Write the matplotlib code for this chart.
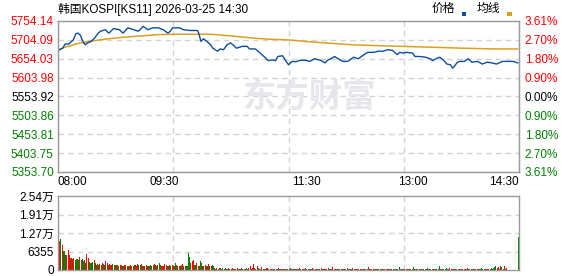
import numpy as np
import matplotlib
matplotlib.use("Agg")
import matplotlib.pyplot as plt
from matplotlib.patches import Rectangle

plt.rcParams['font.family'] = ['Liberation Sans', 'Noto Sans CJK SC', 'DejaVu Sans']

# --- data ---
title = "韩国KOSPI[KS11] 2026-03-25 14:30"
prev_close = 5553.92
price_ticks = [5754.14, 5704.09, 5654.03, 5603.98, 5553.92, 5503.86, 5453.81, 5403.75, 5353.70]
vol_ticks = [0, 6355, 12710, 19065, 25420]
vol_tick_labels = ["0", "6355", "1.27万", "1.91万", "2.54万"]
time_ticks = [0, 90, 210, 300, 390]
time_labels = ["08:00", "09:30", "11:30", "13:00", "14:30"]

# minutes after 08:00 / index level
price_min = [1, 4, 6, 9, 13, 15, 17, 19, 21, 23, 25, 28, 31, 34, 36, 40, 43, 47, 52, 55,
             59, 64, 68, 72, 76, 80, 85, 89, 93, 95, 97, 103, 106, 112, 118, 119, 121, 123, 126, 129,
             131, 135, 137, 140, 143, 146, 148, 151, 156, 160, 162, 167, 171, 175, 178, 181, 184, 186, 190, 192,
             195, 198, 201, 205, 209, 213, 217, 222, 226, 228, 232, 234, 237, 241, 245, 250, 254, 258, 262, 267,
             271, 275, 279, 283, 287, 289, 292, 295, 300, 302, 306, 311, 315, 317, 321, 323, 326, 329, 332, 334,
             338, 340, 344, 347, 350, 355, 359, 363, 367, 371, 376, 380, 385, 389]
price_val = [5678, 5682, 5693, 5693, 5704, 5720, 5722, 5716, 5700, 5691, 5696, 5700, 5709, 5722, 5727, 5731, 5722, 5734, 5731, 5722,
             5736, 5731, 5727, 5740, 5731, 5736, 5736, 5731, 5722, 5727, 5736, 5736, 5731, 5729, 5729, 5722, 5700, 5707, 5700, 5691,
             5682, 5674, 5680, 5678, 5691, 5696, 5691, 5682, 5687, 5687, 5680, 5680, 5669, 5658, 5649, 5651, 5649, 5660, 5662, 5652,
             5638, 5647, 5646, 5650, 5650, 5647, 5654, 5650, 5643, 5650, 5656, 5660, 5654, 5647, 5647, 5658, 5654, 5663, 5671, 5671,
             5674, 5674, 5678, 5676, 5665, 5671, 5669, 5671, 5669, 5660, 5660, 5658, 5654, 5649, 5656, 5658, 5651, 5640, 5638, 5629,
             5645, 5647, 5647, 5654, 5645, 5647, 5640, 5645, 5643, 5640, 5647, 5647, 5647, 5643]

avg_min = [1, 5, 9, 16, 26, 40, 55, 72, 85, 100, 129, 145, 165, 177, 195, 209, 226, 249, 268, 290, 322, 343, 370, 389]
avg_val = [5678, 5684, 5687, 5694, 5700, 5706, 5711, 5715, 5718, 5719, 5719, 5715, 5709, 5706, 5704, 5700, 5696, 5691,
           5689, 5687, 5684, 5682, 5680, 5680]

# volume per minute (minute 1..390), 20 per row
vol_rows = [
    [23240, 9960, 10530, 8590, 6530, 6530, 5150, 5150, 6760, 5150, 4010, 4010, 3780, 4010, 3440, 3660, 3660, 3440, 4350, 3440],
    [3890, 2980, 3440, 2520, 5500, 4010, 2860, 2520, 2520, 2860, 3440, 2290, 1720, 2060, 1720, 2060, 1720, 2290, 1950, 1720],
    [3210, 2290, 1720, 1950, 1600, 1720, 1950, 1720, 1600, 1720, 1600, 1490, 1720, 1600, 1370, 1490, 1600, 1720, 1490, 1370],
    [1490, 1600, 1370, 1490, 1720, 1600, 1490, 1950, 1720, 1600, 1950, 1490, 1370, 1490, 1600, 1260, 1490, 1370, 1600, 1490],
    [1720, 1950, 1600, 1490, 1720, 2290, 1600, 1490, 1370, 1490, 1950, 1600, 1490, 1370, 1720, 1490, 1600, 1370, 1490, 2520],
    [1600, 1490, 1370, 1260, 1600, 1950, 1490, 1370, 1260, 1490, 5950, 4350, 2290, 3210, 3440, 1720, 1600, 2290, 1490, 1370],
    [3210, 2520, 1490, 1370, 1720, 1490, 1370, 2060, 1490, 1260, 1720, 1370, 570, 460, 570, 460, 570, 690, 460, 570],
    [460, 570, 340, 460, 570, 340, 460, 690, 460, 340, 460, 570, 340, 460, 340, 570, 460, 340, 460, 570],
    [460, 690, 1370, 460, 570, 2060, 690, 460, 1370, 570, 460, 340, 920, 460, 340, 460, 570, 570, 340, 460],
    [340, 460, 340, 460, 340, 460, 570, 340, 460, 340, 460, 340, 460, 340, 460, 340, 570, 340, 460, 340],
    [460, 340, 460, 340, 570, 340, 460, 340, 460, 570, 340, 460, 340, 460, 340, 570, 460, 340, 460, 340],
    [460, 340, 570, 460, 340, 460, 340, 460, 570, 340, 460, 340, 920, 460, 340, 460, 340, 460, 340, 460],
    [340, 460, 340, 460, 570, 340, 460, 340, 460, 570, 340, 460, 340, 460, 340, 460, 340, 460, 340, 460],
    [340, 460, 1030, 460, 340, 460, 340, 460, 340, 460, 340, 460, 340, 460, 340, 460, 340, 460, 340, 460],
    [340, 460, 340, 460, 340, 460, 340, 460, 1030, 460, 340, 460, 340, 460, 340, 460, 340, 460, 340, 460],
    [1030, 460, 340, 460, 340, 460, 340, 460, 340, 460, 340, 460, 690, 460, 340, 460, 340, 460, 340, 460],
    [340, 460, 1370, 460, 340, 460, 340, 460, 690, 460, 340, 800, 340, 460, 340, 460, 340, 460, 340, 460],
    [340, 460, 340, 460, 340, 460, 690, 460, 340, 460, 340, 460, 340, 460, 340, 460, 340, 460, 690, 460],
    [340, 460, 340, 460, 340, 460, 570, 460, 690, 1030, 1370, 800, 920, 460, 1370, 920, 460, 1490, 460, 570],
    [0, 0, 0, 0, 0, 0, 0, 0, 0, 11450],
]
# r = up minute, g = down minute
col_rows = [
    "rrgrgggrrrgrrrggggrr", "ggrgrrggggrgrggrrrgg", "rrgrrrgrgrggrrggrrgr", "grrgrgrrggrgrrgrgrgg",
    "rrgrggrgrrrgrgrgrrgg", "rgrgrrgrggggrrrggrgr", "ggrgrgrrgrggrgrgrgrg", "rgrgrgrrgrgrgrgrggrg",
    "grrgrrgrrgrgrgrgrrgr", "rgrgrgrgrgrgrgrgrgrg", "grgrrgrgrgrggrgrrgrg", "rgrgrrgrgrgrrgrgrgrg",
    "rgrggrgrgrrgrgrgrgrg", "grrgrgrgrgrgrgrgrgrg", "rgrgrgrgggrgrgrgrgrg", "ggrgrgrgrgrgggrgrgrg",
    "rgggrgrgggrrrgrgrgrg", "rgrgrgrgrgrgrgrgrggg", "rgrgrgrggggrrggrgrgr", "rrrrrrrrrg",
]

volume = [v for row in vol_rows for v in row]
updown = "".join(col_rows)
vol_x = np.arange(1, len(volume) + 1) - 0.5

RED = '#ff0000'
GREEN = '#008000'
BLACK = '#000000'
GRID = '#d3d3d3'
EDGE = '#9a9a9a'

fig = plt.figure(figsize=(5.78, 2.76), dpi=100)
W, H = 578, 276
ax = fig.add_axes([58 / W, 104 / H, 461 / W, 151 / H])
axv = fig.add_axes([58 / W, 6 / H, 461 / W, 74 / H])

# grids: evenly spaced verticals, dashed horizontals at the ticks
for a in (ax, axv):
    for gx in np.linspace(0, 390, 5)[1:-1]:
        a.axvline(gx, color=GRID, lw=1.0, ls=(0, (4, 3)), zorder=0)
    for s in a.spines.values():
        s.set_color(EDGE)
        s.set_linewidth(1.0)
    a.set_xlim(0, 390)
    a.tick_params(length=0)

for t in price_ticks[1:-1]:
    ax.axhline(t, color=GRID, lw=1.0, ls=(0, (4, 3)), zorder=0)
for t in vol_ticks[1:-1]:
    axv.axhline(t, color=GRID, lw=1.0, ls=(0, (4, 3)), zorder=0)

# watermark
ax.text(0.545, 0.49, "东方财富", transform=ax.transAxes, ha='center', va='center',
        fontsize=24, fontweight='bold', color='#e6e6ec', family=['Noto Sans CJK SC'], zorder=0)

ax.plot(avg_min, avg_val, color='#dba11c', lw=1.1, zorder=2)
ax.plot(price_min, price_val, color='#0b4e9e', lw=1.0, zorder=3)

ax.set_ylim(price_ticks[-1], price_ticks[0])
ax.set_yticks(price_ticks)
ax.set_yticklabels([f"{t:.2f}" for t in price_ticks], fontsize=8.5)


def tick_color(t):
    if abs(t - prev_close) < 0.01:
        return BLACK
    return RED if t > prev_close else GREEN


for lbl, t in zip(ax.get_yticklabels(), price_ticks):
    lbl.set_color(tick_color(t))
ax.tick_params(axis='y', pad=3)

axr = ax.twinx()
axr.set_ylim(ax.get_ylim())
axr.set_yticks(price_ticks)
axr.set_yticklabels([f"{abs(t - prev_close) / prev_close * 100:.2f}%" for t in price_ticks], fontsize=8.5)
for lbl, t in zip(axr.get_yticklabels(), price_ticks):
    lbl.set_color(tick_color(t))
axr.tick_params(length=0, pad=4)
for s in axr.spines.values():
    s.set_color(EDGE)

ax.set_xticks(time_ticks)
ax.set_xticklabels(time_labels, fontsize=8.5)
ax.tick_params(axis='x', pad=3)
for lbl, ha in zip(ax.get_xticklabels(), ['left', 'center', 'center', 'center', 'right']):
    lbl.set_ha(ha)

# volume bars
bar_colors = [RED if c == 'r' else GREEN for c in updown]
axv.bar(vol_x, volume, width=0.85, color=bar_colors, linewidth=0, antialiased=False, zorder=2)
axv.set_ylim(0, vol_ticks[-1])
axv.set_yticks(vol_ticks)
axv.set_yticklabels(vol_tick_labels, fontsize=8.5)
axv.tick_params(axis='y', pad=3)
axv.set_xticks([])

# title and legend
fig.text(58 / W, 1 - 9 / H, title, fontsize=8.5, ha='left', va='center')
fig.text(432 / W, 1 - 9 / H, "价格", fontsize=8.5, ha='left', va='center')
fig.text(477 / W, 1 - 9 / H, "均线", fontsize=8.5, ha='left', va='center')
fig.add_artist(Rectangle((462 / W, 1 - 15.5 / H), 4 / W, 3 / H, transform=fig.transFigure,
                         color='#0b4e9e', lw=0))
fig.add_artist(Rectangle((507 / W, 1 - 15.5 / H), 5 / W, 3 / H, transform=fig.transFigure,
                         color='#dba11c', lw=0))

fig.savefig("out.png", dpi=100)
